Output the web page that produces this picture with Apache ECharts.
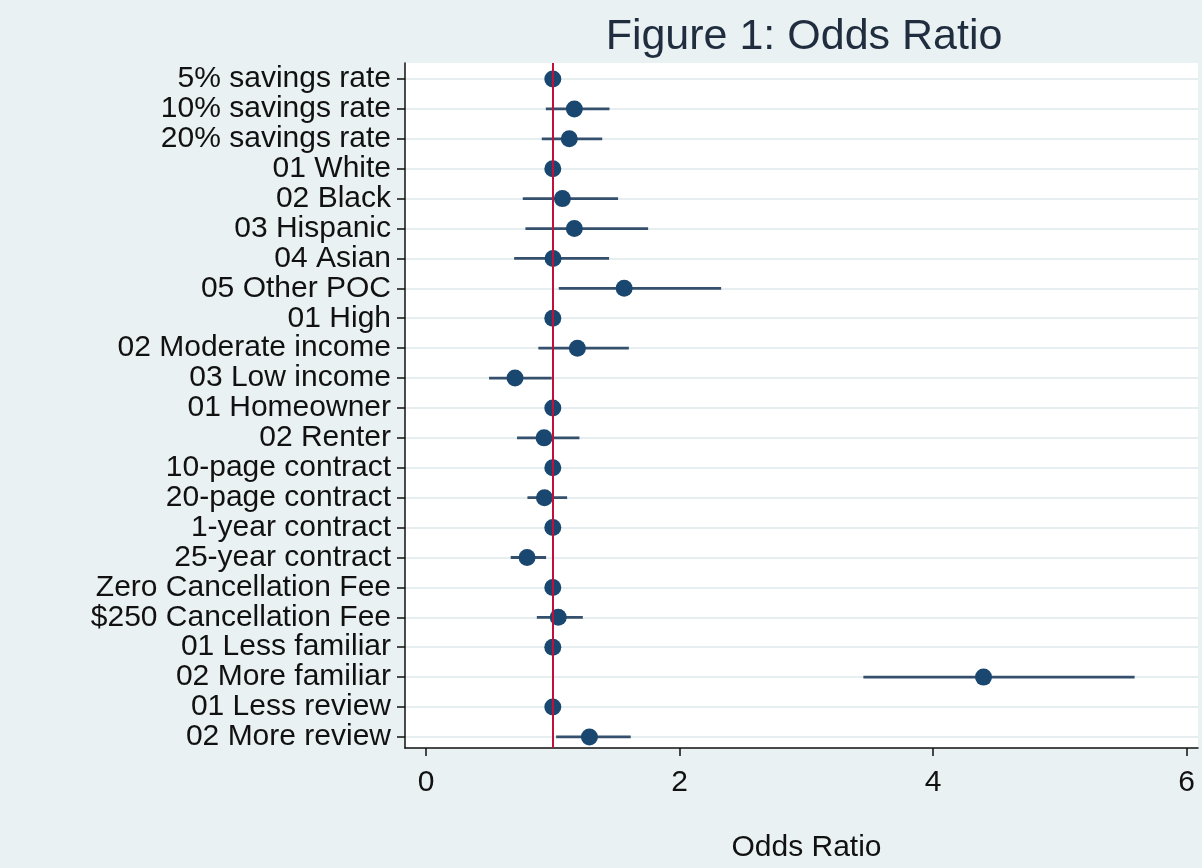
<!DOCTYPE html>
<html>
<head>
<meta charset="utf-8">
<script src="https://cdn.jsdelivr.net/npm/echarts@6/dist/echarts.min.js"></script>
<style>
html,body{margin:0;padding:0;background:#eaf1f3;}
#chart{width:1202px;height:868px;}
</style>
</head>
<body>
<div id="chart"></div>
<script>
const titleText = 'Figure 1: Odds Ratio';
const xAxisName = 'Odds Ratio';
const categories = [
  '5% savings rate', '10% savings rate', '20% savings rate',
  '01 White', '02 Black', '03 Hispanic', '04 Asian', '05 Other POC',
  '01 High', '02 Moderate income', '03 Low income',
  '01 Homeowner', '02 Renter',
  '10-page contract', '20-page contract',
  '1-year contract', '25-year contract',
  'Zero Cancellation Fee', '$250 Cancellation Fee',
  '01 Less familiar', '02 More familiar',
  '01 Less review', '02 More review'
];
const oddsRatio = [1, 1.17, 1.13, 1, 1.076, 1.17, 1.002, 1.563, 1, 1.194, 0.702, 1, 0.931, 1, 0.934, 1, 0.797, 1, 1.043, 1, 4.398, 1, 1.289];
const ciLow  = [null, 0.945, 0.913, null, 0.763, 0.784, 0.695, 1.047, null, 0.886, 0.497, null, 0.718, null, 0.80, null, 0.668, null, 0.874, null, 3.45, null, 1.026];
const ciHigh = [null, 1.447, 1.39, null, 1.515, 1.752, 1.444, 2.328, null, 1.60, 0.992, null, 1.21, null, 1.113, null, 0.947, null, 1.237, null, 5.59, null, 1.615];
const xTicks = [0, 2, 4, 6];
const referenceValue = 1;

const rowIdx = categories.map((c, i) => i);
const pointData = oddsRatio.map((v, i) => [v, i]);
const ciData = [];
ciLow.forEach((lo, i) => { if (lo !== null) ciData.push([lo, ciHigh[i], i]); });

const FONT = "'Liberation Sans', Arial, Helvetica, sans-serif";
const chart = echarts.init(document.getElementById('chart'), null, {renderer: 'canvas'});
chart.setOption({
  backgroundColor: '#eaf1f3',
  animation: false,
  graphic: [{
    type: 'text', x: 804, y: 37, z: 10,
    style: {text: titleText, align: 'center', verticalAlign: 'middle',
            font: "43px " + FONT, fill: '#1f2d3f'}
  }],
  grid: {left: 405, right: 4, top: 63, bottom: 120, show: true, backgroundColor: '#ffffff', borderWidth: 0},
  xAxis: {
    type: 'value', min: -0.166, max: 6.09,
    name: xAxisName, nameLocation: 'middle', nameGap: 85,
    nameTextStyle: {fontFamily: FONT, fontSize: 30, color: '#111', padding: [0, 0, 0, 10]},
    axisLine: {show: true, onZero: false, lineStyle: {color: '#111', width: 1.5}},
    axisTick: {show: true, length: 8, customValues: xTicks, lineStyle: {color: '#111', width: 1.5}},
    axisLabel: {customValues: xTicks, margin: 20, fontFamily: FONT, fontSize: 30, color: '#111'},
    splitLine: {show: false}
  },
  yAxis: {
    type: 'value', inverse: true, min: -0.535, max: 22.37,
    axisLine: {show: true, onZero: false, lineStyle: {color: '#111', width: 1.5}},
    axisTick: {show: true, length: 8, customValues: rowIdx, lineStyle: {color: '#111', width: 1.5}},
    axisLabel: {customValues: rowIdx, margin: 14, fontFamily: FONT, fontSize: 30, color: '#111',
                formatter: v => categories[Math.round(v)]},
    splitLine: {show: true, lineStyle: {color: '#e6eef0', width: 2}}
  },
  series: [
    {
      type: 'custom', name: 'CI', data: ciData, z: 2,
      encode: {x: [0, 1], y: 2},
      renderItem: function (params, api) {
        const a = api.coord([api.value(0), api.value(2)]);
        const b = api.coord([api.value(1), api.value(2)]);
        return {type: 'line', shape: {x1: a[0], y1: a[1], x2: b[0], y2: b[1]},
                style: {stroke: '#34506c', lineWidth: 2.8}};
      }
    },
    {
      type: 'scatter', name: 'Odds ratio', data: pointData, z: 4,
      symbol: 'circle', symbolSize: 17,
      itemStyle: {color: '#1a476f', opacity: 1},
      markLine: {
        silent: true, symbol: ['none', 'none'], label: {show: false},
        lineStyle: {color: '#c2103c', width: 2, type: 'solid'},
        data: [{xAxis: referenceValue}]
      }
    }
  ]
});
</script>
</body>
</html>
